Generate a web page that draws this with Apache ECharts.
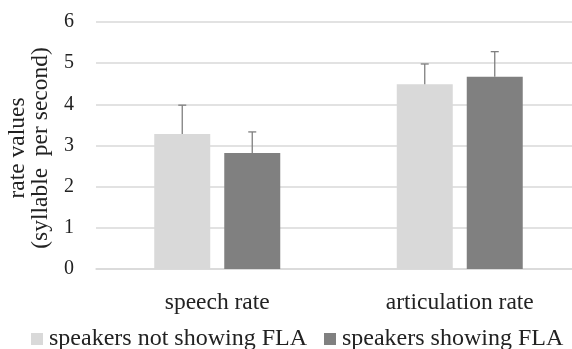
<!DOCTYPE html>
<html><head><meta charset="utf-8">
<script src="https://cdn.jsdelivr.net/npm/echarts@6/dist/echarts.min.js"></script>
<style>html,body{margin:0;padding:0;background:#fff}#c{width:572px;height:349px}</style>
</head><body><div id="c"></div>
<script>
var categories = ['speech rate', 'articulation rate'];
var seriesNames = ['speakers not showing FLA', 'speakers showing FLA'];
var notShowing = [3.28, 4.49];
var notShowingErr = [0.70, 0.49];
var showing = [2.82, 4.67];
var showingErr = [0.51, 0.61];
var yTicks = [0, 1, 2, 3, 4, 5, 6];

var font = 'Liberation Serif';
var chart = echarts.init(document.getElementById('c'));

function errSeries(vals, errs, idx) {
  return {
    type: 'custom',
    name: seriesNames[idx],
    data: vals.map(function (v, i) { return [i, v, v + errs[i]]; }),
    z: 10,
    silent: true,
    tooltip: {show: false},
    renderItem: function (params, api) {
      var ci = api.value(0);
      var p0 = api.coord([ci, api.value(1)]);
      var p1 = api.coord([ci, api.value(2)]);
      var barW = 56, gap = 14;
      var off = idx === 0 ? -(gap / 2 + barW / 2) : (gap / 2 + barW / 2);
      var x = p0[0] + off;
      var st = {stroke: '#7f7f7f', lineWidth: 1.3};
      return {type: 'group', children: [
        {type: 'line', shape: {x1: x, y1: p0[1], x2: x, y2: p1[1]}, style: st},
        {type: 'line', shape: {x1: x - 4, y1: p1[1], x2: x + 4, y2: p1[1]}, style: st}
      ]};
    }
  };
}

chart.setOption({
  animation: false,
  textStyle: {fontFamily: font},
  grid: {left: 96, top: 22, width: 485, height: 247, outerBoundsMode: 'none', containLabel: false},
  legend: {
    data: seriesNames,
    top: 327,
    left: 31,
    padding: 0,
    itemWidth: 12, itemHeight: 12, itemGap: 17,
    icon: 'rect',
    textStyle: {fontFamily: font, fontSize: 24, color: '#222', padding: [0, 0, 0, 1]}
  },
  xAxis: {
    type: 'category',
    data: categories,
    axisLine: {lineStyle: {color: '#d9d9d9', width: 1.5}},
    axisTick: {show: false},
    axisLabel: {fontFamily: font, fontSize: 23.5, color: '#222', margin: 22}
  },
  yAxis: {
    type: 'value', min: 0, max: 6, interval: 1,
    name: 'rate values\n(syllable  per second)',
    nameLocation: 'middle', nameRotate: 90, nameGap: 40,
    nameTextStyle: {fontFamily: font, fontSize: 23.5, color: '#222', lineHeight: 23, padding: [0, 5, 0, 0]},
    axisLine: {show: false}, axisTick: {show: false},
    splitLine: {lineStyle: {color: '#d9d9d9', width: 1.5}},
    axisLabel: {fontFamily: font, fontSize: 20, color: '#222', margin: 22,
      formatter: function (v) { return yTicks.indexOf(v) >= 0 ? String(v) : ''; }}
  },
  series: [
    {type: 'bar', name: seriesNames[0], data: notShowing, barWidth: 56, barGap: '25%', itemStyle: {color: '#d9d9d9'}},
    {type: 'bar', name: seriesNames[1], data: showing, barWidth: 56, barGap: '25%', itemStyle: {color: '#808080'}},
    errSeries(notShowing, notShowingErr, 0),
    errSeries(showing, showingErr, 1)
  ]
});
</script></body></html>
